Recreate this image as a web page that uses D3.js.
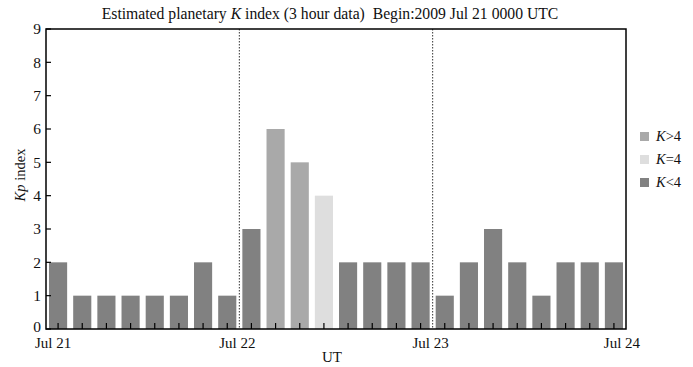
<!DOCTYPE html>
<html>
<head>
<meta charset="utf-8">
<script src="https://cdn.jsdelivr.net/npm/d3@7"></script>
<style>
  body { margin: 0; background: #fff; }
  text { font-family: "Liberation Serif", "DejaVu Serif", serif; fill: #111; }
</style>
</head>
<body>
<div id="chart"></div>
<script>
const dayLabels = ['Jul 21', 'Jul 22', 'Jul 23', 'Jul 24'];
const kpValues = [2, 1, 1, 1, 1, 1, 2, 1,
                  3, 6, 5, 4, 2, 2, 2, 2,
                  1, 2, 3, 2, 1, 2, 2, 2];
const yTicks = [0, 1, 2, 3, 4, 5, 6, 7, 8, 9];
const legendItems = [
    {label: '>4', color: '#a9a9a9'},
    {label: '=4', color: '#dedede'},
    {label: '<4', color: '#818181'}
];

function barColor(v) {
    if (v > 4) return '#a9a9a9';
    if (v === 4) return '#dedede';
    return '#818181';
}

const totalWidth = 693, totalHeight = 367;
const margin = {top: 29, right: 67, bottom: 38, left: 46};
const width = totalWidth - margin.left - margin.right;
const height = totalHeight - margin.top - margin.bottom;

const svg = d3.select('#chart').append('svg')
    .attr('width', totalWidth)
    .attr('height', totalHeight);

const g = svg.append('g')
    .attr('transform', `translate(${margin.left},${margin.top})`);

const x = d3.scaleLinear()
    .domain([0, kpValues.length])
    .range([0, width]);

const y = d3.scaleLinear()
    .domain([0, 9])
    .range([height, 0]);

const slot = x(1) - x(0);
const barW = slot * 0.75;

// day separators
[8, 16].forEach(i => {
    g.append('line')
        .attr('x1', x(i)).attr('x2', x(i))
        .attr('y1', 0).attr('y2', height)
        .attr('stroke', '#333')
        .attr('stroke-width', 1)
        .attr('stroke-dasharray', '1.5,1.5');
});

g.selectAll('rect.bar')
    .data(kpValues)
    .join('rect')
    .attr('class', 'bar')
    .attr('x', (d, i) => x(i + 0.5) - barW / 2)
    .attr('y', d => y(d))
    .attr('width', barW)
    .attr('height', d => height - y(d))
    .attr('fill', d => barColor(d));

// small ticks at bar centres
g.selectAll('line.xtick')
    .data(kpValues)
    .join('line')
    .attr('class', 'xtick')
    .attr('x1', (d, i) => x(i + 0.5))
    .attr('x2', (d, i) => x(i + 0.5))
    .attr('y1', height)
    .attr('y2', height - 6)
    .attr('stroke', '#000')
    .attr('stroke-width', 1.2);

// y ticks
g.selectAll('line.ytick')
    .data(yTicks)
    .join('line')
    .attr('class', 'ytick')
    .attr('x1', 0).attr('x2', 5)
    .attr('y1', d => y(d)).attr('y2', d => y(d))
    .attr('stroke', '#000')
    .attr('stroke-width', 1.2);

g.selectAll('text.ylab')
    .data(yTicks)
    .join('text')
    .attr('class', 'ylab')
    .attr('x', -5)
    .attr('y', d => y(d) - (d === 0 ? 2 : 0))
    .attr('dy', '0.35em')
    .attr('text-anchor', 'end')
    .style('font-size', '15.5px')
    .text(d => d);

g.selectAll('text.xlab')
    .data(dayLabels)
    .join('text')
    .attr('class', 'xlab')
    .attr('x', (d, i) => x(i * 8) + (i === 0 ? 7 : (i === 3 ? -4 : -2)))
    .attr('y', height + 19)
    .attr('text-anchor', 'middle')
    .style('font-size', '15px')
    .text(d => d);

// frame
g.append('rect')
    .attr('width', width)
    .attr('height', height)
    .attr('fill', 'none')
    .attr('stroke', '#000')
    .attr('stroke-width', 1.5);

g.append('text')
    .attr('x', width / 2 - 4)
    .attr('y', height + 33)
    .attr('text-anchor', 'middle')
    .style('font-size', '15px')
    .text('UT');

const yTitle = svg.append('text')
    .attr('transform', `translate(25,175) rotate(-90)`)
    .attr('text-anchor', 'middle')
    .style('font-size', '14.5px');
yTitle.append('tspan').style('font-style', 'italic').text('Kp');
yTitle.append('tspan').text(' index');

const title = svg.append('text')
    .attr('x', 330)
    .attr('y', 19)
    .attr('text-anchor', 'middle')
    .attr('xml:space', 'preserve')
    .style('font-size', '15.7px');
title.append('tspan').text('Estimated planetary ');
title.append('tspan').style('font-style', 'italic').text('K');
title.append('tspan').text(' index (3 hour data)  Begin:2009 Jul 21 0000 UTC');

const legend = svg.append('g')
    .attr('transform', `translate(${margin.left + width + 14},132)`);

legendItems.forEach((item, i) => {
    const row = legend.append('g').attr('transform', `translate(0,${i * 23})`);
    row.append('rect')
        .attr('width', 9).attr('height', 9)
        .attr('fill', item.color);
    const t = row.append('text')
        .attr('x', 16).attr('y', 9)
        .style('font-size', '14.5px');
    t.append('tspan').style('font-style', 'italic').text('K');
    t.append('tspan').text(item.label);
});
</script>
</body>
</html>
